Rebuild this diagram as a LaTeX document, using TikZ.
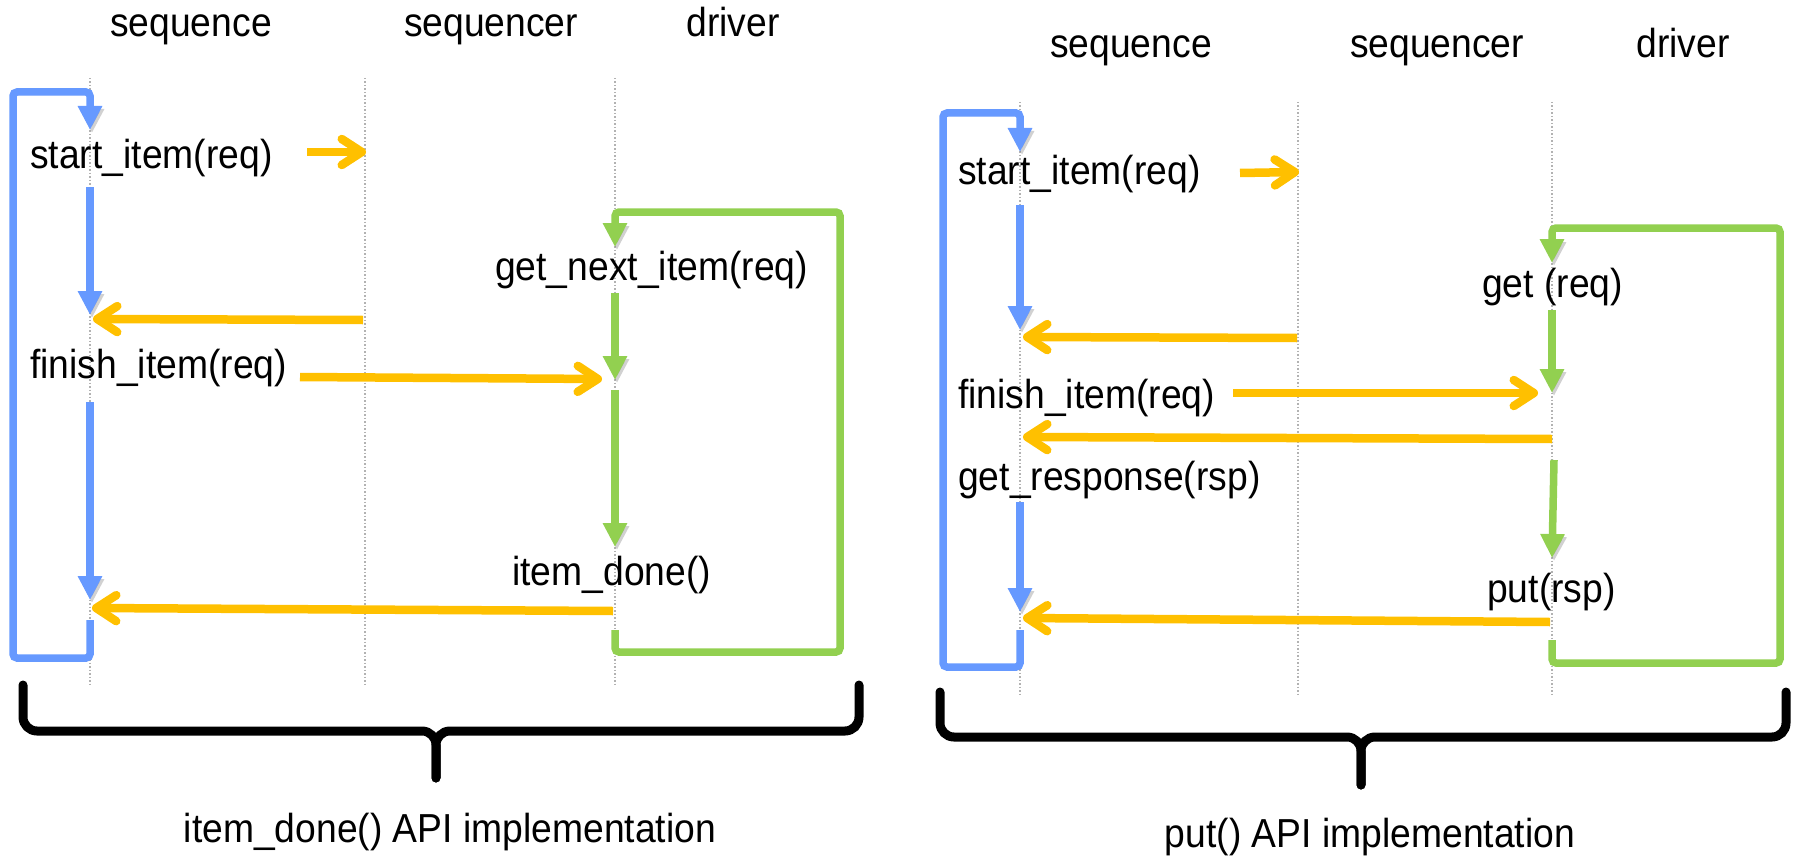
\documentclass[tikz,border=0pt]{standalone}
\usepackage{fontspec}
\setmainfont{Liberation Sans}
\newfontfamily\diagfont[FakeStretch=0.92]{Liberation Sans}
\usetikzlibrary{arrows.meta}

\definecolor{seqblue}{RGB}{102,153,255}
\definecolor{msgorange}{RGB}{255,192,0}
\definecolor{drvgreen}{RGB}{146,208,80}

\tikzset{
  lifeline/.style={draw=black!30, line width=1.2pt, dash pattern=on 1.5pt off 2pt},
  dropshade/.style={preaction={draw=black, opacity=0.18, transform canvas={shift={(2pt,-3pt)}}}},
  flowpath/.style={dropshade, line width=7.5pt, rounded corners=4pt,
    -{Triangle[length=24pt,width=23pt]}},
  bluepath/.style={flowpath, draw=seqblue},
  greenpath/.style={flowpath, draw=drvgreen},
  msgarrow/.style={dropshade, draw=msgorange, line width=8.5pt,
    -{Straight Barb[length=20pt,width=26pt,round]}},
  txt/.style={font=\diagfont\fontsize{40.5}{48}\selectfont, inner sep=0pt, anchor=base west},
  head/.style={txt, anchor=base},
  bracepath/.style={dropshade, draw=black, line width=9pt, line cap=round, rounded corners=14pt}
}

\begin{document}
\begin{tikzpicture}[x=1pt,y=-1pt]
\useasboundingbox (0,0) rectangle (1793,856);

% ---------------- item_done() flow ----------------
\node[head] (lhSeq)  at (191,37) {sequence};
\node[head] (lhSqr)  at (491,37) {sequencer};
\node[head] (lhDrv)  at (733,37) {driver};

\coordinate (lSeqTop) at (90,78);  \coordinate (lSeqBot) at (90,684);
\coordinate (lSqrTop) at (365,78); \coordinate (lSqrBot) at (365,684);
\coordinate (lDrvTop) at (615,78); \coordinate (lDrvBot) at (615,684);
\draw[lifeline] (lSeqTop) -- (lSeqBot);
\draw[lifeline] (lSqrTop) -- (lSqrBot);
\draw[lifeline] (lDrvTop) -- (lDrvBot);

\node[txt] (lStart)  at (30,168)  {start\_item(req)};
\node[txt] (lFinish) at (30,378)  {finish\_item(req)};
\node[txt] (lGetNext) at (495,280) {get\_next\_item(req)};
\node[txt] (lDone)   at (512,585) {item\_done()};

% sequence loop and steps
\coordinate (lbA) at (90,620);  \coordinate (lbB) at (90,658);
\coordinate (lbC) at (13,658);  \coordinate (lbD) at (13,92);
\coordinate (lbE) at (90,92);   \coordinate (lbF) at (90,130);
\draw[bluepath] (lbA) -- (lbB) -- (lbC) -- (lbD) -- (lbE) -- (lbF);
\coordinate (lb1s) at (90,187); \coordinate (lb1e) at (90,315);
\draw[bluepath] (lb1s) -- (lb1e);
\coordinate (lb2s) at (90,402); \coordinate (lb2e) at (90,600);
\draw[bluepath] (lb2s) -- (lb2e);

% driver loop and steps
\coordinate (lgA) at (615,630); \coordinate (lgB) at (615,652);
\coordinate (lgC) at (840,652); \coordinate (lgD) at (840,212);
\coordinate (lgE) at (615,212); \coordinate (lgF) at (615,247);
\draw[greenpath] (lgA) -- (lgB) -- (lgC) -- (lgD) -- (lgE) -- (lgF);
\coordinate (lg1s) at (615,293); \coordinate (lg1e) at (615,380);
\draw[greenpath] (lg1s) -- (lg1e);
\coordinate (lg2s) at (615,390); \coordinate (lg2e) at (615,547);
\draw[greenpath] (lg2s) -- (lg2e);

% messages
\coordinate (lo1s) at (307,152); \coordinate (lo1e) at (366,152);
\draw[msgarrow] (lo1s) -- (lo1e);
\coordinate (lo2s) at (363,320); \coordinate (lo2e) at (93,319);
\draw[msgarrow] (lo2s) -- (lo2e);
\coordinate (lo3s) at (300,377); \coordinate (lo3e) at (602,379);
\draw[msgarrow] (lo3s) -- (lo3e);
\coordinate (lo4s) at (613,611); \coordinate (lo4e) at (92,608);
\draw[msgarrow] (lo4s) -- (lo4e);

% brace and caption
\coordinate (lbrL) at (23,685);  \coordinate (lbrR) at (859,685);
\coordinate (lbrM) at (436,731); \coordinate (lbrT) at (436,778);
\draw[bracepath] (lbrL) |- (lbrM) -- (lbrT);
\draw[bracepath] (lbrR) |- (lbrM) -- (lbrT);
\node[head] (lCap) at (450,842) {item\_done() API implementation};

% ---------------- put() flow ----------------
\node[head] (rhSeq)  at (1131,58) {sequence};
\node[head] (rhSqr)  at (1437,58) {sequencer};
\node[head] (rhDrv)  at (1683,58) {driver};

\coordinate (rSeqTop) at (1020,102); \coordinate (rSeqBot) at (1020,697);
\coordinate (rSqrTop) at (1298,102); \coordinate (rSqrBot) at (1298,697);
\coordinate (rDrvTop) at (1552,102); \coordinate (rDrvBot) at (1552,697);
\draw[lifeline] (rSeqTop) -- (rSeqBot);
\draw[lifeline] (rSqrTop) -- (rSqrBot);
\draw[lifeline] (rDrvTop) -- (rDrvBot);

\node[txt] (rStart)  at (958,184)  {start\_item(req)};
\node[txt] (rFinish) at (958,408)  {finish\_item(req)};
\node[txt] (rResp)   at (958,490)  {get\_response(rsp)};
\node[txt] (rGet)    at (1482,297) {get (req)};
\node[txt] (rPut)    at (1487,602) {put(rsp)};

% sequence loop and steps
\coordinate (rbA) at (1020,630); \coordinate (rbB) at (1020,667);
\coordinate (rbC) at (943,667);  \coordinate (rbD) at (943,113);
\coordinate (rbE) at (1020,113); \coordinate (rbF) at (1020,152);
\draw[bluepath] (rbA) -- (rbB) -- (rbC) -- (rbD) -- (rbE) -- (rbF);
\coordinate (rb1s) at (1020,205); \coordinate (rb1e) at (1020,330);
\draw[bluepath] (rb1s) -- (rb1e);
\coordinate (rb2s) at (1020,502); \coordinate (rb2e) at (1020,612);
\draw[bluepath] (rb2s) -- (rb2e);

% driver loop and steps
\coordinate (rgA) at (1552,640); \coordinate (rgB) at (1552,663);
\coordinate (rgC) at (1780,663); \coordinate (rgD) at (1780,228);
\coordinate (rgE) at (1552,228); \coordinate (rgF) at (1552,263);
\draw[greenpath] (rgA) -- (rgB) -- (rgC) -- (rgD) -- (rgE) -- (rgF);
\coordinate (rg1s) at (1552,310); \coordinate (rg1e) at (1552,393);
\draw[greenpath] (rg1s) -- (rg1e);
\coordinate (rg2s) at (1554,460); \coordinate (rg2e) at (1552,558);
\draw[greenpath] (rg2s) -- (rg2e);

% messages
\coordinate (ro1s) at (1240,173); \coordinate (ro1e) at (1299,172);
\draw[msgarrow] (ro1s) -- (ro1e);
\coordinate (ro2s) at (1297,338); \coordinate (ro2e) at (1023,337);
\draw[msgarrow] (ro2s) -- (ro2e);
\coordinate (ro3s) at (1233,393); \coordinate (ro3e) at (1538,393);
\draw[msgarrow] (ro3s) -- (ro3e);
\coordinate (ro4s) at (1552,439); \coordinate (ro4e) at (1023,437);
\draw[msgarrow] (ro4s) -- (ro4e);
\coordinate (ro5s) at (1550,622); \coordinate (ro5e) at (1023,618);
\draw[msgarrow] (ro5s) -- (ro5e);

% brace and caption
\coordinate (rbrL) at (940,692);  \coordinate (rbrR) at (1786,692);
\coordinate (rbrM) at (1361,737); \coordinate (rbrT) at (1361,785);
\draw[bracepath] (rbrL) |- (rbrM) -- (rbrT);
\draw[bracepath] (rbrR) |- (rbrM) -- (rbrT);
\node[head] (rCap) at (1370,847) {put() API implementation};
\end{tikzpicture}
\end{document}
